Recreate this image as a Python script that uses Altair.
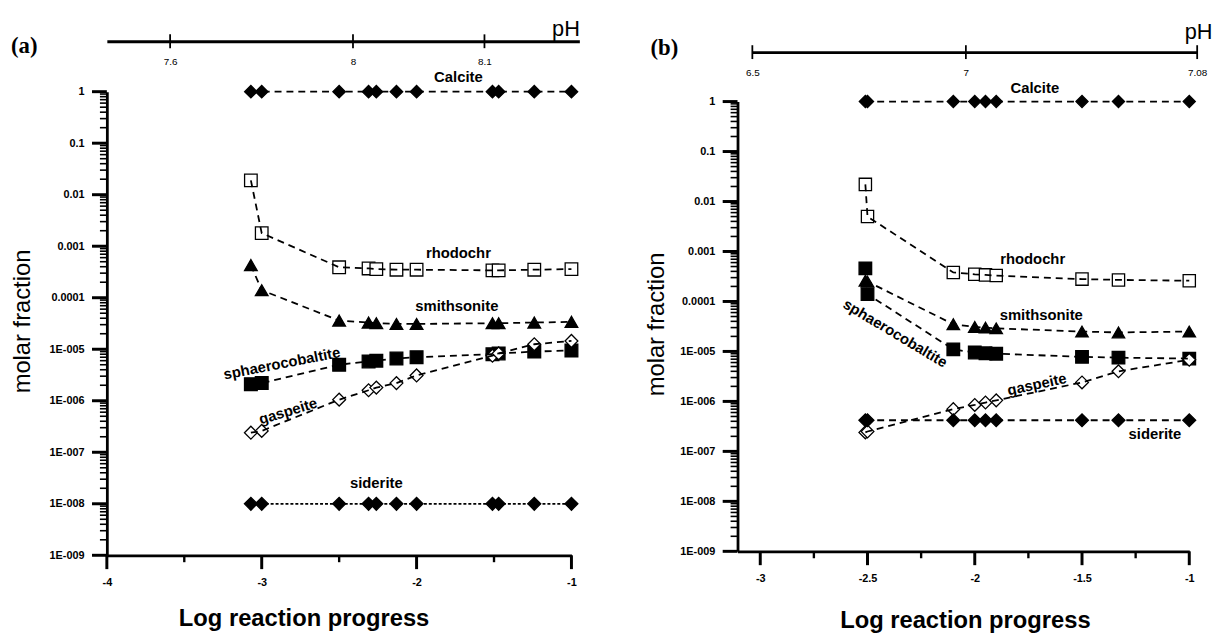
import altair as alt
import pandas as pd

FONT = "Liberation Sans"
SERIF = "Liberation Serif"
TICK_COLOR = "black"

MINERALS = ["Calcite", "rhodochr", "smithsonite", "sphaerocobaltite", "gaspeite", "siderite"]
SHAPES = ["diamond", "square", "triangle-up", "square", "diamond", "diamond"]
FILLS = ["black", "white", "black", "black", "white", "black"]

A_X = [-3.07, -3.0, -2.5, -2.31, -2.26, -2.13, -2.0, -1.51, -1.47, -1.24, -1.0]
A_CALCITE = [1, 1, 1, 1, 1, 1, 1, 1, 1, 1, 1]
A_RHODOCHR = [0.019, 0.0018, 3.9e-4, 3.7e-4, 3.6e-4, 3.5e-4, 3.5e-4, 3.4e-4, 3.4e-4, 3.5e-4, 3.6e-4]
A_SMITHSONITE = [4.3e-4, 1.4e-4, 3.6e-5, 3.3e-5, 3.2e-5, 3.1e-5, 3.1e-5, 3.2e-5, 3.2e-5, 3.3e-5, 3.4e-5]
A_SPHAERO = [2.1e-6, 2.2e-6, 5.0e-6, 5.8e-6, 6.0e-6, 6.6e-6, 7.0e-6, 8.0e-6, 8.3e-6, 9.0e-6, 9.5e-6]
A_GASPEITE = [2.4e-7, 2.6e-7, 1.05e-6, 1.6e-6, 1.8e-6, 2.2e-6, 3.1e-6, 7.5e-6, 8.3e-6, 1.25e-5, 1.45e-5]
A_SIDERITE = [1e-8, 1e-8, 1e-8, 1e-8, 1e-8, 1e-8, 1e-8, 1e-8, 1e-8, 1e-8, 1e-8]

A_LABEL_X = [-1.73, -1.73, -1.74, -2.87, -2.83, -2.26]
A_LABEL_Y = [1.95, 7.4e-4, 6.8e-5, 5.3e-6, 6.3e-7, 2.5e-8]
A_LABEL_ANGLE = [0, 0, 0, 349, 343, 0]

A_X_MAJOR = [-4, -3, -2, -1]
A_X_MINOR = [-3.5, -2.5, -1.5]
PH_A_TICKS = [7.6, 8.0, 8.1]

B_X = [-2.51, -2.5, -2.1, -2.0, -1.95, -1.9, -1.5, -1.33, -1.0]
B_CALCITE = [1, 1, 1, 1, 1, 1, 1, 1, 1]
B_RHODOCHR = [0.022, 0.005, 3.8e-4, 3.5e-4, 3.4e-4, 3.3e-4, 2.8e-4, 2.7e-4, 2.6e-4]
B_SMITHSONITE = [2.6e-4, 2.5e-4, 3.5e-5, 3.1e-5, 3.0e-5, 2.9e-5, 2.5e-5, 2.4e-5, 2.5e-5]
B_SPHAERO = [4.6e-4, 1.4e-4, 1.1e-5, 9.5e-6, 9.2e-6, 9.0e-6, 7.8e-6, 7.5e-6, 7.2e-6]
B_GASPEITE = [2.4e-7, 2.5e-7, 7.0e-7, 8.5e-7, 9.5e-7, 1.05e-6, 2.4e-6, 4.0e-6, 6.8e-6]
B_SIDERITE = [4.2e-7, 4.2e-7, 4.2e-7, 4.2e-7, 4.2e-7, 4.2e-7, 4.2e-7, 4.2e-7, 4.2e-7]

B_LABEL_X = [-1.72, -1.73, -1.69, -2.37, -1.71, -1.16]
B_LABEL_Y = [1.89, 6.9e-4, 5.4e-5, 2.3e-5, 2.2e-6, 2.2e-7]
B_LABEL_ANGLE = [0, 0, 0, 31, 348, 0]

B_X_MAJOR = [-3, -2.5, -2, -1.5, -1]
B_X_MINOR = [-2.75, -2.25, -1.75, -1.25]
PH_B_TICKS = [6.5, 7.0, 7.08]

Y_LABELS = ["1", "0.1", "0.01", "0.001", "0.0001", "1E-005", "1E-006", "1E-007", "1E-008", "1E-009"]
Y_MAJOR = [10.0 ** e for e in range(-9, 1)]
Y_MINOR = [m * 10.0 ** e for e in range(-9, 0) for m in range(2, 10)]

LOG10 = "(log(datum.value)/LN10)"
Y_LABEL_EXPR = "[" + ",".join(f"'{s}'" for s in Y_LABELS) + f"][-round({LOG10})]"


def long_df(xs, series):
    rows = []
    for name, vals in zip(MINERALS, series):
        for x, v in zip(xs, vals):
            rows.append({"x": x, "value": v, "mineral": name})
    return pd.DataFrame(rows)


def panel(xs, series, lab_x, lab_y, lab_ang, x_domain, x_major, x_minor, width, height,
          y_range, y_title_x, y_title_y, x_title_x, x_title_y, sizes, dashes,
          ph_ticks, ph_domain, ph_range, ph_offset, ph_title_x, ph_title_y, tag, tag_dx, tag_dy):
    df = long_df(xs, series)
    labels = pd.DataFrame({"x": lab_x, "value": lab_y, "text": MINERALS, "angle": lab_ang})

    x_scale = alt.Scale(domain=x_domain, nice=False, zero=False)
    if y_range is not None:
        y_scale = alt.Scale(type="log", domain=[1e-9, 1], nice=False, range=y_range)
    else:
        y_scale = alt.Scale(type="log", domain=[1e-9, 1], nice=False)

    x_main_axis = alt.Axis(values=x_major, labelExpr="'-' + abs(datum.value)",
                           ticks=False, domainWidth=2.8,
                           labelFontSize=11, labelFontWeight="bold", labelPadding=22,
                           labelOverlap=False, labelFlush=False, labelBound=False,
                           title="Log reaction progress", titleFontSize=24,
                           titleFontWeight="bold", titleX=x_title_x, titleY=x_title_y,
                           titleAlign="center", titleBaseline="alphabetic")
    y_main_axis = alt.Axis(values=Y_MAJOR, labelExpr=Y_LABEL_EXPR,
                           ticks=False, domainWidth=2.8,
                           labelFontSize=11, labelFontWeight="bold", labelPadding=23,
                           labelOverlap=False, labelFlush=False, labelBound=False,
                           title="molar fraction", titleFontSize=24, titleFontWeight="normal",
                           titleAngle=270, titleX=y_title_x, titleY=y_title_y,
                           titleAlign="center", titleBaseline="middle")

    mineral_shape = alt.Shape("mineral:N", scale=alt.Scale(domain=MINERALS, range=SHAPES), legend=None)
    mineral_fill = alt.Fill("mineral:N", scale=alt.Scale(domain=MINERALS, range=FILLS), legend=None)
    mineral_size = alt.Size("mineral:N", scale=alt.Scale(domain=MINERALS, range=sizes), legend=None)
    mineral_dash = alt.StrokeDash("mineral:N", scale=alt.Scale(domain=MINERALS, range=dashes), legend=None)

    def xq(axis=None):
        return alt.X("x:Q", scale=x_scale, axis=axis)

    def yq(axis=None):
        return alt.Y("value:Q", scale=y_scale, axis=axis)

    points = alt.Chart(df).mark_point(filled=True, stroke="black", strokeWidth=1.3, opacity=1).encode(
        x=xq(x_main_axis), y=yq(y_main_axis),
        shape=mineral_shape, fill=mineral_fill, size=mineral_size)
    lines = alt.Chart(df).mark_line(color="black", strokeWidth=1.8).encode(
        x=xq(), y=yq(), strokeDash=mineral_dash)
    texts = alt.Chart(labels).mark_text(font=FONT, fontSize=15, fontWeight="bold", color="black",
                                        align="center", baseline="middle").encode(
        x=xq(), y=yq(), text="text:N", angle=alt.Angle("angle:Q", scale=None))

    y_major_df = pd.DataFrame({"value": Y_MAJOR, "x": x_domain[0]})
    y_minor_df = pd.DataFrame({"value": Y_MINOR, "x": x_domain[0]})
    x_major_df = pd.DataFrame({"x": x_major, "value": 1e-9})
    x_minor_df = pd.DataFrame({"x": x_minor, "value": 1e-9})
    y_major_ticks = alt.Chart(y_major_df).mark_tick(
        orient="horizontal", size=15, thickness=3, color=TICK_COLOR, opacity=1, xOffset=-7.5
    ).encode(x=xq(), y=yq())
    y_minor_ticks = alt.Chart(y_minor_df).mark_tick(
        orient="horizontal", size=7, thickness=1.6, color=TICK_COLOR, opacity=1, xOffset=-3.5
    ).encode(x=xq(), y=yq())
    x_major_ticks = alt.Chart(x_major_df).mark_tick(
        orient="vertical", size=14, thickness=3, color=TICK_COLOR, opacity=1, yOffset=7
    ).encode(x=xq(), y=yq())
    x_minor_ticks = alt.Chart(x_minor_df).mark_tick(
        orient="vertical", size=7, thickness=2.4, color=TICK_COLOR, opacity=1, yOffset=3.5
    ).encode(x=xq(), y=yq())

    ph = alt.Chart(pd.DataFrame({"ph": ph_ticks})).mark_tick(
        orient="vertical", size=14, thickness=1.8, color="black", opacity=1
    ).encode(
        x=alt.X("ph:Q",
                scale=alt.Scale(domain=ph_domain, range=ph_range, nice=False, zero=False),
                axis=alt.Axis(orient="top", values=ph_ticks, labelExpr="'' + datum.value",
                              ticks=False, offset=ph_offset, domainWidth=2.8,
                              labelFontSize=10, labelBaseline="top", labelPadding=-16,
                              labelOverlap=False, labelFlush=False, labelBound=False,
                              title="pH", titleFontSize=22, titleFontWeight="normal",
                              titleX=ph_title_x, titleY=ph_title_y, titleAlign="right",
                              titleBaseline="alphabetic")),
        y=alt.value(-ph_offset))

    return alt.layer(points, lines, texts, y_major_ticks, y_minor_ticks, x_major_ticks,
                     x_minor_ticks, ph).resolve_scale(
        x="independent").resolve_axis(x="independent", y="independent").properties(
        width=width, height=height,
        title=alt.TitleParams(tag, anchor="start", font=SERIF, fontSize=23, fontWeight="bold",
                              color="black", dx=tag_dx, dy=tag_dy))


panel_a = panel(A_X, [A_CALCITE, A_RHODOCHR, A_SMITHSONITE, A_SPHAERO, A_GASPEITE, A_SIDERITE],
                A_LABEL_X, A_LABEL_Y, A_LABEL_ANGLE, [-4, -1], A_X_MAJOR, A_X_MINOR,
                470, 469, None, -85, 232, 199, 71,
                [160, 170, 170, 210, 110, 190],
                [[7, 5], [7, 5], [7, 5], [7, 5], [7, 5], [3, 2]],
                PH_A_TICKS, [7.46, 7.6, 8.0, 8.1, 8.17], [0, 64, 249, 382, 478], 51, 478, -6,
                "(a)", 0, 45)

panel_b = panel(B_X, [B_CALCITE, B_RHODOCHR, B_SMITHSONITE, B_SPHAERO, B_GASPEITE, B_SIDERITE],
                B_LABEL_X, B_LABEL_Y, B_LABEL_ANGLE, [-3.106, -1], B_X_MAJOR, B_X_MINOR,
                457, 465, [465, 10], -82, 235, 230, 77,
                [150, 170, 170, 200, 100, 170],
                [[7, 5], [7, 5], [7, 5], [7, 5], [7, 5], [7, 5]],
                PH_B_TICKS, [6.5, 7.0, 7.08], [15, 231, 465], 40, 480, -14,
                "(b)", 6, 44)

chart = alt.hconcat(panel_a, panel_b, spacing=64).resolve_scale(
    shape="independent", fill="independent", size="independent", strokeDash="independent"
).properties(
    padding={"left": 3, "top": 6, "right": 0, "bottom": 0}
).configure_view(stroke=None).configure_axis(
    domainColor="black", labelColor="black", titleColor="black",
    labelFont=FONT, titleFont=FONT, grid=False
)

chart.save("out.html", embed_options={"renderer": "svg", "actions": False})
